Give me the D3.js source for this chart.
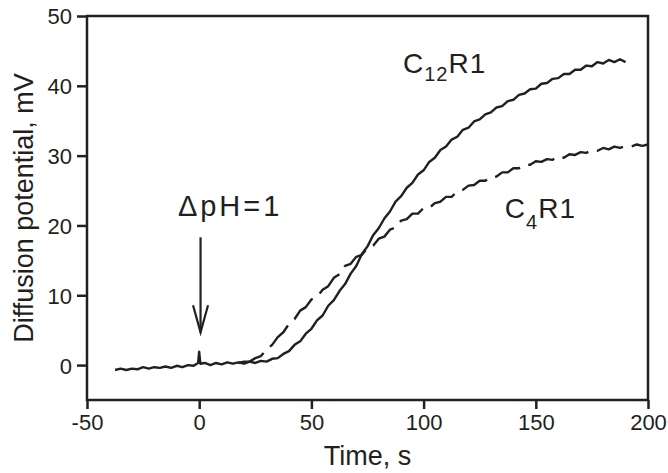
<!DOCTYPE html>
<html>
<head>
<meta charset="utf-8">
<style>
  body { margin: 0; background: #fff; }
  svg text { fill: #231f20; }
</style>
<script src="https://cdn.jsdelivr.net/npm/d3@7"></script>
</head>
<body>
<svg width="668" height="473" font-family="Liberation Sans, Arial, sans-serif"></svg>
<script>

// C12R1 trace (solid)
var timeC12 = [-37.5,-35,-32.5,-30,-27.5,-25,-22.5,-20,-17.5,-15,-12.5,-10,-7.5,-5,-2.5,-0.5,0,0.5,2.5,5,7.5,10,12.5,15,17.5,20,22.5,25,27.5,30,32.5,35,37.5,40,42.5,45,47.5,50,52.5,55,57.5,60,62.5,65,67.5,70,72.5,75,77.5,80,82.5,85,87.5,90,92.5,95,97.5,100,102.5,105,107.5,110,112.5,115,117.5,120,122.5,125,127.5,130,132.5,135,137.5,140,142.5,145,147.5,150,152.5,155,157.5,160,162.5,165,167.5,170,172.5,175,177.5,180,182.5,185,187.5,190];
var valC12 = [-0.7,-0.5,-0.7,-0.5,-0.6,-0.3,-0.5,-0.3,-0.4,-0.2,-0.4,-0.1,-0.3,0.0,-0.1,0.3,1.9,0.2,0.3,0.0,0.3,0.1,0.4,0.2,0.4,0.2,0.5,0.3,0.6,0.5,0.9,1.0,1.6,2.0,2.9,3.4,4.5,5.2,6.4,7.1,8.5,9.3,10.6,11.6,13.1,14.2,15.9,17.0,18.6,19.6,21.0,22.0,23.4,24.2,25.4,26.1,27.3,27.9,29.1,29.7,30.8,31.3,32.3,32.7,33.7,34.0,34.9,35.2,35.9,36.2,36.9,37.1,37.8,38.0,38.7,38.9,39.5,39.6,40.3,40.4,41.0,41.1,41.7,41.7,42.3,42.3,42.9,42.8,43.4,43.2,43.7,43.4,43.8,43.4];

// C4R1 trace (dashed), baseline overlaps the solid one before ~17 s
var timeC4 = [17.5,20,22.5,25,27.5,30,32.5,35,37.5,40,42.5,45,47.5,50,52.5,55,57.5,60,62.5,65,67.5,70,72.5,75,77.5,80,82.5,85,87.5,90,92.5,95,97.5,100,102.5,105,107.5,110,112.5,115,117.5,120,122.5,125,127.5,130,132.5,135,137.5,140,142.5,145,147.5,150,152.5,155,157.5,160,162.5,165,167.5,170,172.5,175,177.5,180,182.5,185,187.5,190,192.5,195,197.5,200];
var valC4 = [0.3,0.5,0.5,1.0,1.3,2.2,2.9,4.0,4.7,5.9,6.6,7.8,8.3,9.4,9.8,10.8,11.3,12.5,13.0,14.2,14.5,15.5,15.8,16.8,17.1,18.1,18.4,19.4,19.7,20.7,20.9,21.7,21.7,22.5,22.5,23.2,23.4,24.1,24.1,24.9,25.1,25.7,25.8,26.4,26.4,27.0,27.0,27.6,27.6,28.2,28.2,28.7,28.7,29.2,29.1,29.5,29.4,29.9,29.7,30.2,30.1,30.5,30.4,30.8,30.7,31.1,30.9,31.3,31.1,31.4,31.3,31.6,31.4,31.6];

var xTicks = [-50, 0, 50, 100, 150, 200];
var yTicks = [0, 10, 20, 30, 40, 50];

var svg = d3.select("svg"),
    margin = {top: 16, right: 20, bottom: 73, left: 87},
    width = +svg.attr("width") - margin.left - margin.right,
    height = +svg.attr("height") - margin.top - margin.bottom;

var x = d3.scaleLinear().domain([-50, 200]).range([0, width]);
var y = d3.scaleLinear().domain([-5, 50]).range([height, 0]);

var g = svg.append("g").attr("transform", "translate(" + margin.left + "," + margin.top + ")");

var ink = "#231f20";

// frame
g.append("rect")
    .attr("width", width)
    .attr("height", height)
    .attr("fill", "none")
    .attr("stroke", ink)
    .attr("stroke-width", 2.5);

var plain = function(d) { return String(d); };   // keeps "-50" with a hyphen like the original

var xAxis = g.append("g")
    .attr("transform", "translate(0," + height + ")")
    .call(d3.axisBottom(x).tickValues(xTicks).tickSize(9).tickPadding(5).tickFormat(plain));

var yAxis = g.append("g")
    .call(d3.axisLeft(y).tickValues(yTicks).tickSize(10).tickPadding(5).tickFormat(plain));

[xAxis, yAxis].forEach(function(a) {
  a.select(".domain").remove();
  a.selectAll("line").attr("stroke", ink).attr("stroke-width", 2.5);
  a.selectAll("text").attr("font-size", 22).attr("fill", ink).attr("font-family", "Liberation Sans, Arial, sans-serif");
});
yAxis.selectAll("text").attr("dy", "0.36em");

var line = d3.line()
    .x(function(d) { return x(d[0]); })
    .y(function(d) { return y(d[1]); });

g.append("path")
    .datum(d3.zip(timeC12, valC12))
    .attr("d", line)
    .attr("fill", "none")
    .attr("stroke", ink)
    .attr("stroke-width", 2.4)
    .attr("stroke-linejoin", "round");

g.append("path")
    .datum(d3.zip(timeC4, valC4))
    .attr("d", line)
    .attr("fill", "none")
    .attr("stroke", ink)
    .attr("stroke-width", 2.4)
    .attr("stroke-dasharray", "28,9")
    .attr("stroke-linejoin", "round");

// arrow at the pH jump
var arrowX = x(0.6);
g.append("line")
    .attr("x1", arrowX).attr("x2", arrowX)
    .attr("y1", y(18.3)).attr("y2", y(4.7))
    .attr("stroke", ink).attr("stroke-width", 2.2);
g.append("path")
    .attr("d", "M" + (arrowX - 7.5) + "," + (y(4.7) - 27) + "L" + arrowX + "," + y(4.7) + "L" + (arrowX + 7.5) + "," + (y(4.7) - 27))
    .attr("fill", "none").attr("stroke", ink).attr("stroke-width", 2.2);

g.append("text")
    .attr("x", x(-9.5)).attr("y", y(21.4))
    .attr("font-size", 29)
    .attr("letter-spacing", 3)
    .text("\u0394pH=1");

var lab1 = g.append("text").attr("x", x(90.8)).attr("y", y(41.9)).attr("font-size", 28).attr("letter-spacing", 1);
lab1.append("tspan").text("C");
lab1.append("tspan").attr("font-size", 20).attr("dy", 8).text("12");
lab1.append("tspan").attr("dy", -8).text("R1");

var lab2 = g.append("text").attr("x", x(136.2)).attr("y", y(21.0)).attr("font-size", 28).attr("letter-spacing", 1);
lab2.append("tspan").text("C");
lab2.append("tspan").attr("font-size", 20).attr("dy", 11).text("4");
lab2.append("tspan").attr("dy", -11).text("R1");

// axis titles
svg.append("text")
    .attr("x", margin.left + width / 2)
    .attr("y", 465)
    .attr("text-anchor", "middle")
    .attr("font-size", 27)
    .text("Time, s");

svg.append("text")
    .attr("transform", "translate(33," + (margin.top + height / 2) + ") rotate(-90)")
    .attr("text-anchor", "middle")
    .attr("font-size", 27)
    .text("Diffusion potential, mV");

</script>
</body>
</html>
